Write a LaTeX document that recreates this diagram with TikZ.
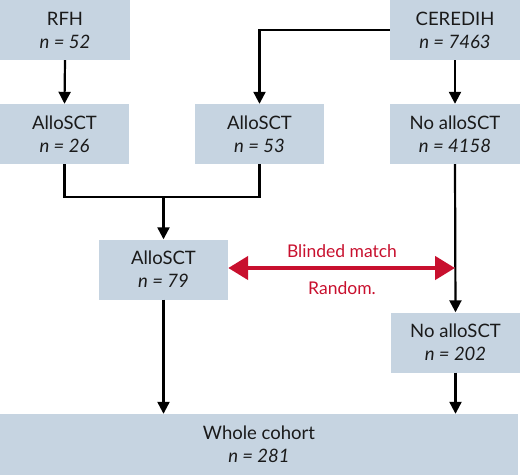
\documentclass[tikz,border=0pt]{standalone}
\usepackage{fontspec}
\setmainfont{Lato}
\usetikzlibrary{arrows.meta}
\definecolor{boxfill}{HTML}{C6D4E1}
\definecolor{redarrow}{HTML}{C8102E}
\definecolor{txt}{HTML}{1A1A1A}
\begin{document}
\begin{tikzpicture}[x=1pt,y=-1pt,
  box/.style={fill=boxfill,draw=none,inner sep=0pt,minimum width=129pt,minimum height=60pt,
    align=center,font=\fontsize{18.5}{23}\selectfont,text=txt},
  conn/.style={line width=2.2pt,draw=black},
  arr/.style={conn,-{Triangle[length=12pt,width=12pt]}},
  redarr/.style={line width=4.5pt,draw=redarrow,{Triangle[length=20pt,width=23pt]}-{Triangle[length=20pt,width=23pt]}},
  redlbl/.style={text=redarrow,font=\fontsize{17.5}{20}\selectfont}]
\useasboundingbox (0,0) rectangle (520,475);
\node[box,minimum width=130pt] (rfh) at (65,30) {RFH\\\textit{n = 52}};
\node[box,minimum width=130pt] (cer) at (455,30) {CEREDIH\\\textit{n = 7463}};
\node[box] (a26) at (64.5,134) {AlloSCT\\\textit{n = 26}};
\node[box] (a53) at (259.5,134) {AlloSCT\\\textit{n = 53}};
\node[box,minimum width=130pt] (n4158) at (455,134) {No alloSCT\\\textit{n = 4158}};
\node[box] (a79) at (163.5,269.5) {AlloSCT\\\textit{n = 79}};
\node[box] (n202) at (455.5,342.5) {No alloSCT\\\textit{n = 202}};
\node[box,minimum width=518pt,minimum height=61pt] (whole) at (259,444.5) {Whole cohort\\\textit{n = 281}};
\coordinate (m) at (163.5,197);
\coordinate (r) at (455,268);
\draw[arr] (rfh.south) -- (a26.north);
\draw[arr] (cer.west) -| (a53.north);
\draw[arr] (cer.south) -- (n4158.north);
\draw[conn] (a26.south) |- (a53.south |- m) -- (a53.south);
\draw[arr] (m) -- (a79.north);
\draw[arr] (n4158.south) -- (n202.north);
\draw[arr] (a79.south) -- (a79.south |- whole.north);
\draw[arr] (n202.south) -- (n202.south |- whole.north);
\draw[redarr] (a79.east |- r) -- (r);
\node[redlbl] (bm) at (342,251) {Blinded match};
\node[redlbl] (rd) at (342,288) {Random.};
\end{tikzpicture}
\end{document}
